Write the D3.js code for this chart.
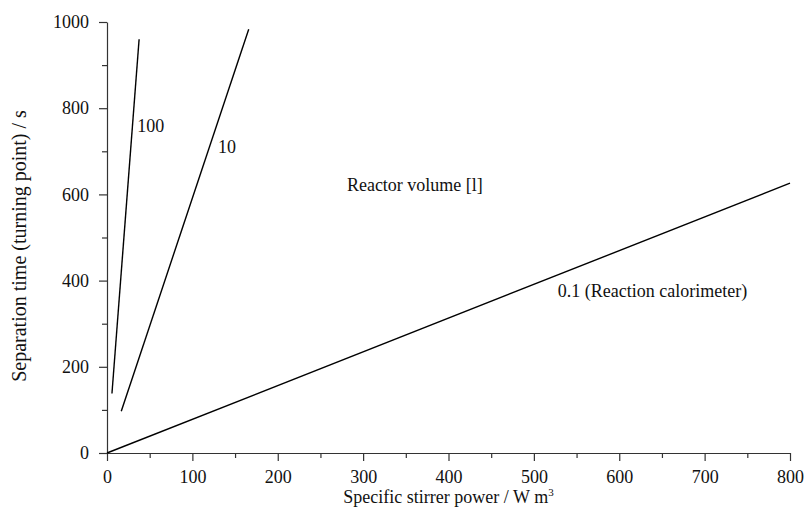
<!DOCTYPE html>
<html>
<head>
<meta charset="utf-8">
<script src="https://cdn.jsdelivr.net/npm/d3@7"></script>
<style>
  body { margin: 0; background: #fff; }
  svg text { font-family: "Liberation Serif", "Times New Roman", Tinos, Times, "Noto Serif", "DejaVu Serif", serif !important; fill: #111; }
</style>
</head>
<body>
<div id="chart"></div>
<script>
// reactor volume lines (power W/m3, time s)
var volumes = ["100", "10", "0.1 (Reaction calorimeter)"]
var line_100 = [[5.8, 138], [37.6, 960]]
var line_10 = [[16.7, 97], [166, 983]]
var line_01 = [[0, 0], [800, 626]]
// where the curve labels sit (data units)
var label_pos = [[35.5, 745], [130, 697], [528, 362]]
var x_ticks = [0, 100, 200, 300, 400, 500, 600, 700, 800]
var y_ticks = [0, 200, 400, 600, 800, 1000]

var margin = {top: 22, right: 18, bottom: 62, left: 107},
    width = 808 - margin.left - margin.right,
    height = 515 - margin.top - margin.bottom;

var svg = d3.select("#chart")
  .append("svg")
    .attr("width", 808)
    .attr("height", 515)
  .append("g")
    .attr("transform", "translate(" + margin.left + "," + margin.top + ")");

var x = d3.scaleLinear().domain([0, 800]).range([0, width]);
var y = d3.scaleLinear().domain([0, 1000]).range([height, 0]);

// minor ticks first
svg.append("g")
  .attr("transform", "translate(0," + height + ")")
  .call(d3.axisBottom(x).tickValues(d3.range(50, 800, 100)).tickSize(5).tickFormat("").tickSizeOuter(0))
  .call(g => g.select(".domain").remove());
svg.append("g")
  .call(d3.axisLeft(y).tickValues(d3.range(100, 1000, 200)).tickSize(5).tickFormat("").tickSizeOuter(0))
  .call(g => g.select(".domain").remove());

var xAxis = svg.append("g")
  .attr("transform", "translate(0," + height + ")")
  .call(d3.axisBottom(x).tickValues(x_ticks).tickFormat(d3.format("d")).tickSize(8).tickSizeOuter(0).tickPadding(9));
var yAxis = svg.append("g")
  .call(d3.axisLeft(y).tickValues(y_ticks).tickFormat(d3.format("d")).tickSize(8).tickSizeOuter(0).tickPadding(10));

svg.selectAll("g").attr("font-family", null)
svg.selectAll(".tick text")
  .style("font-size", "18px")
svg.selectAll(".domain, .tick line").attr("stroke", "#333").attr("stroke-width", 1.2)

// axis titles
svg.append("text")
  .attr("x", width / 2)
  .attr("y", height + 50)
  .attr("text-anchor", "middle")
  .style("font-size", "18px")
  .html("Specific stirrer power / W m<tspan font-size='11px' dy='-7'>3</tspan>")

svg.append("text")
  .attr("transform", "translate(" + (26 - margin.left) + "," + (246 - margin.top) + ") rotate(-90)")
  .attr("text-anchor", "middle")
  .style("font-size", "20px")
  .text("Separation time (turning point) / s")

// lines
var line_coords = d3.line()
  .x(function(d) { return x(d[0]); })
  .y(function(d) { return y(d[1]); });

var lines = [line_100, line_10, line_01]
svg.selectAll("path.vol")
  .data(lines)
  .enter()
  .append("path")
    .attr("class", "vol")
    .attr("fill", "none")
    .attr("stroke", "#000")
    .attr("stroke-width", 1.4)
    .attr("d", function(d) { return line_coords(d); });

svg.selectAll("text.vol")
  .data(volumes)
  .enter()
  .append("text")
    .attr("class", "vol")
    .attr("x", function(d, i) { return x(label_pos[i][0]); })
    .attr("y", function(d, i) { return y(label_pos[i][1]); })
    .style("font-size", "18px")
    .text(function(d) { return d; });

svg.append("text")
  .attr("x", x(281))
  .attr("y", y(607))
  .style("font-size", "18px")
  .text("Reactor volume [l]");
</script>
</body>
</html>
